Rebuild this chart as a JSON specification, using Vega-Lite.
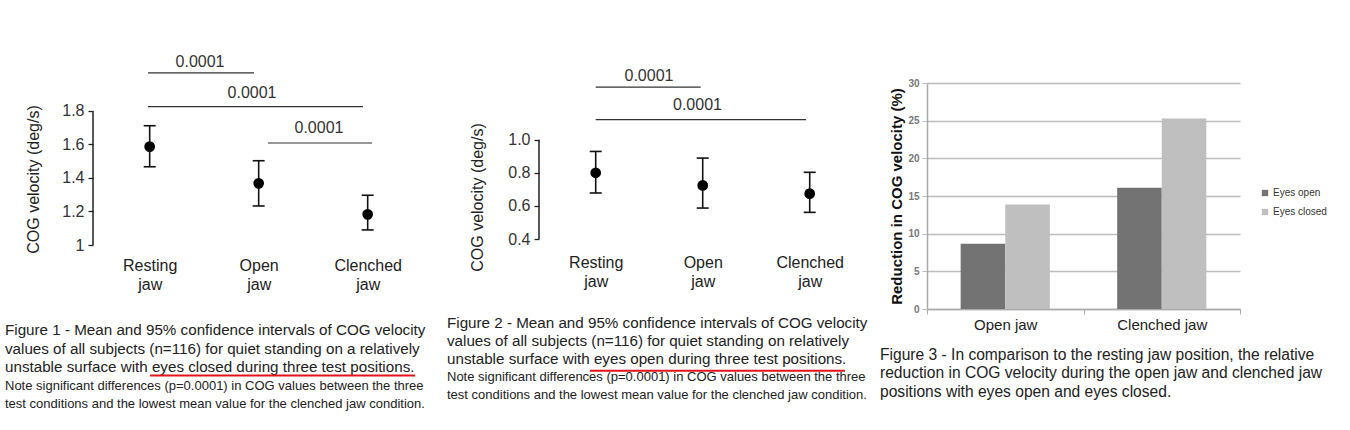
{
  "$schema": "https://vega.github.io/schema/vega-lite/v6.json",
  "background": "white",
  "padding": {"left": 5, "top": 52, "right": 5, "bottom": 16},
  "config": {"font": "Liberation Sans", "view": {"stroke": null}},
  "columns": 6,
  "bounds": "flush",
  "spacing": 0,
  "resolve": {"scale": {"color": "independent"}},
  "datasets": {
    "cog1": [
      {"condition": "Resting jaw", "pos": 1, "mean": 1.587, "lo": 1.467, "hi": 1.712},
      {"condition": "Open jaw", "pos": 2, "mean": 1.368, "lo": 1.233, "hi": 1.503},
      {"condition": "Clenched jaw", "pos": 3, "mean": 1.183, "lo": 1.09, "hi": 1.297}
    ],
    "br1": [
      {"label": "0.0001", "x1": 0.985, "x2": 1.957, "y": 2.027, "lx": 1.462, "ly": 2.09},
      {"label": "0.0001", "x1": 0.985, "x2": 2.957, "y": 1.826, "lx": 1.939, "ly": 1.91},
      {"label": "0.0001", "x1": 2.085, "x2": 3.04, "y": 1.609, "lx": 2.553, "ly": 1.701}
    ],
    "cog2": [
      {"condition": "Resting jaw", "pos": 1, "mean": 0.8, "lo": 0.678, "hi": 0.929},
      {"condition": "Open jaw", "pos": 2, "mean": 0.724, "lo": 0.587, "hi": 0.889},
      {"condition": "Clenched jaw", "pos": 3, "mean": 0.674, "lo": 0.561, "hi": 0.803}
    ],
    "br2": [
      {"label": "0.0001", "x1": 1.0, "x2": 1.981, "y": 1.318, "lx": 1.498, "ly": 1.382},
      {"label": "0.0001", "x1": 1.0, "x2": 2.965, "y": 1.121, "lx": 1.951, "ly": 1.211}
    ],
    "bars": [
      {"jaw": "Open jaw", "eyes": "Eyes open", "reduction": 8.66},
      {"jaw": "Open jaw", "eyes": "Eyes closed", "reduction": 13.88},
      {"jaw": "Clenched jaw", "eyes": "Eyes open", "reduction": 16.08},
      {"jaw": "Clenched jaw", "eyes": "Eyes closed", "reduction": 25.28}
    ],
    "cap1": [
      {"line": 1, "kind": "main", "text": "Figure 1 - Mean and 95% confidence intervals of COG velocity"},
      {"line": 2, "kind": "main", "text": "values of all subjects (n=116) for quiet standing on a relatively"},
      {"line": 3, "kind": "main", "text": "unstable surface with eyes closed during three test positions."},
      {"line": 4, "kind": "note", "text": "Note significant differences (p=0.0001) in COG values between the three"},
      {"line": 5, "kind": "note", "text": "test conditions and the lowest mean value for the clenched jaw condition."}
    ],
    "cap2": [
      {"line": 1, "kind": "main", "text": "Figure 2 - Mean and 95% confidence intervals of COG velocity"},
      {"line": 2, "kind": "main", "text": "values of all subjects (n=116) for quiet standing on relatively"},
      {"line": 3, "kind": "main", "text": "unstable surface with eyes open during three test positions."},
      {"line": 4, "kind": "note", "text": "Note significant differences (p=0.0001) in COG values between the three"},
      {"line": 5, "kind": "note", "text": "test conditions and the lowest mean value for the clenched jaw condition."}
    ],
    "cap3": [
      {"line": 1, "kind": "main", "text": "Figure 3 - In comparison to the resting jaw position, the relative"},
      {"line": 2, "kind": "main", "text": "reduction in COG velocity during the open jaw and clenched jaw"},
      {"line": 3, "kind": "main", "text": "positions with eyes open and eyes closed."}
    ],
    "under1": [{"start": 0.329, "end": 0.93, "line": 3.44}],
    "under2": [{"start": 0.33, "end": 0.919, "line": 3.65}]
  },
  "concat": [
    {"width": 1, "height": 31, "data": {"values": []}, "mark": "text", "encoding": {}},
    {"width": 1, "height": 31, "data": {"values": []}, "mark": "text", "encoding": {}},
    {"width": 1, "height": 31, "data": {"values": []}, "mark": "text", "encoding": {}},
    {"width": 1, "height": 31, "data": {"values": []}, "mark": "text", "encoding": {}},
    {"width": 1, "height": 31, "data": {"values": []}, "mark": "text", "encoding": {}},
    {"width": 1, "height": 31, "data": {"values": []}, "mark": "text", "encoding": {}},

    {"width": 88, "height": 1, "data": {"values": []}, "mark": "text", "encoding": {}},
    {
      "width": 327,
      "height": 162,
      "layer": [
        {
          "data": {"name": "br1"},
          "mark": {"type": "rule", "color": "#333", "strokeWidth": 1.2},
          "encoding": {
            "x": {"field": "x1", "type": "quantitative", "title": null,
              "scale": {"domain": [0.48, 3.48], "nice": false, "zero": false},
              "axis": {"values": [1, 2, 3], "labelExpr": "datum.value == 1 ? ['Resting','jaw'] : datum.value == 2 ? ['Open','jaw'] : ['Clenched','jaw']", "domain": false, "ticks": false, "grid": false, "labelFontSize": 16, "labelColor": "#222", "labelPadding": 12, "labelLineHeight": 19, "labelOverlap": false, "labelFlush": false}},
            "x2": {"field": "x2"},
            "y": {"field": "y", "type": "quantitative", "title": "COG velocity (deg/s)",
              "scale": {"domain": [1, 1.967], "nice": false, "zero": false},
              "axis": {"values": [1, 1.2, 1.4, 1.6, 1.8], "format": "~g", "domain": false, "labelFontSize": 16, "labelColor": "#333", "labelPadding": 4, "tickSize": 5, "tickColor": "#222", "tickWidth": 1.3, "grid": false, "titleFontSize": 16, "titleFontWeight": "normal", "titleColor": "#222", "titlePadding": 20, "titleY": 96}}
          }
        },
        {
          "data": {"values": [{}]},
          "mark": {"type": "rule", "color": "#222", "strokeWidth": 1.5},
          "encoding": {
            "x": {"datum": 0.48, "type": "quantitative", "title": null},
            "y": {"datum": 1, "type": "quantitative", "title": "COG velocity (deg/s)"},
            "y2": {"datum": 1.8}
          }
        },
        {
          "data": {"name": "br1"},
          "mark": {"type": "text", "fontSize": 16, "color": "#333", "baseline": "middle"},
          "encoding": {
            "x": {"field": "lx", "type": "quantitative", "title": null},
            "y": {"field": "ly", "type": "quantitative", "title": "COG velocity (deg/s)"},
            "text": {"field": "label"}
          }
        },
        {
          "data": {"name": "cog1"},
          "mark": {"type": "rule", "color": "#111", "strokeWidth": 1.6},
          "encoding": {
            "x": {"field": "pos", "type": "quantitative", "title": null},
            "y": {"field": "lo", "type": "quantitative", "title": "COG velocity (deg/s)"},
            "y2": {"field": "hi"}
          }
        },
        {
          "data": {"name": "cog1"},
          "mark": {"type": "tick", "orient": "horizontal", "size": 12, "thickness": 1.6, "color": "#111", "opacity": 1},
          "encoding": {
            "x": {"field": "pos", "type": "quantitative", "title": null},
            "y": {"field": "lo", "type": "quantitative", "title": "COG velocity (deg/s)"}
          }
        },
        {
          "data": {"name": "cog1"},
          "mark": {"type": "tick", "orient": "horizontal", "size": 12, "thickness": 1.6, "color": "#111", "opacity": 1},
          "encoding": {
            "x": {"field": "pos", "type": "quantitative", "title": null},
            "y": {"field": "hi", "type": "quantitative", "title": "COG velocity (deg/s)"}
          }
        },
        {
          "data": {"name": "cog1"},
          "mark": {"type": "point", "filled": true, "size": 115, "color": "#000", "opacity": 1},
          "encoding": {
            "x": {"field": "pos", "type": "quantitative", "title": null},
            "y": {"field": "mean", "type": "quantitative", "title": "COG velocity (deg/s)"}
          }
        }
      ]
    },
    {"width": 92, "height": 1, "data": {"values": []}, "mark": "text", "encoding": {}},
    {
      "width": 321,
      "height": 156,
      "layer": [
        {
          "data": {"name": "br2"},
          "mark": {"type": "rule", "color": "#333", "strokeWidth": 1.2},
          "encoding": {
            "x": {"field": "x1", "type": "quantitative", "title": null,
              "scale": {"domain": [0.47, 3.47], "nice": false, "zero": false},
              "axis": {"values": [1, 2, 3], "labelExpr": "datum.value == 1 ? ['Resting','jaw'] : datum.value == 2 ? ['Open','jaw'] : ['Clenched','jaw']", "domain": false, "ticks": false, "grid": false, "labelFontSize": 16, "labelColor": "#222", "labelPadding": 15, "labelLineHeight": 19, "labelOverlap": false, "labelFlush": false}},
            "x2": {"field": "x2"},
            "y": {"field": "y", "type": "quantitative", "title": "COG velocity (deg/s)",
              "scale": {"domain": [0.4, 1.3426], "nice": false, "zero": false},
              "axis": {"values": [0.4, 0.6, 0.8, 1.0], "format": ".1f", "domain": false, "labelFontSize": 16, "labelColor": "#333", "labelPadding": 4, "tickSize": 5, "tickColor": "#222", "tickWidth": 1.3, "grid": false, "titleFontSize": 16, "titleFontWeight": "normal", "titleColor": "#222", "titlePadding": 22, "titleY": 114}}
          }
        },
        {
          "data": {"values": [{}]},
          "mark": {"type": "rule", "color": "#222", "strokeWidth": 1.5},
          "encoding": {
            "x": {"datum": 0.47, "type": "quantitative", "title": null},
            "y": {"datum": 0.4, "type": "quantitative", "title": "COG velocity (deg/s)"},
            "y2": {"datum": 1.0}
          }
        },
        {
          "data": {"name": "br2"},
          "mark": {"type": "text", "fontSize": 16, "color": "#333", "baseline": "middle"},
          "encoding": {
            "x": {"field": "lx", "type": "quantitative", "title": null},
            "y": {"field": "ly", "type": "quantitative", "title": "COG velocity (deg/s)"},
            "text": {"field": "label"}
          }
        },
        {
          "data": {"name": "cog2"},
          "mark": {"type": "rule", "color": "#111", "strokeWidth": 1.6},
          "encoding": {
            "x": {"field": "pos", "type": "quantitative", "title": null},
            "y": {"field": "lo", "type": "quantitative", "title": "COG velocity (deg/s)"},
            "y2": {"field": "hi"}
          }
        },
        {
          "data": {"name": "cog2"},
          "mark": {"type": "tick", "orient": "horizontal", "size": 12, "thickness": 1.6, "color": "#111", "opacity": 1},
          "encoding": {
            "x": {"field": "pos", "type": "quantitative", "title": null},
            "y": {"field": "lo", "type": "quantitative", "title": "COG velocity (deg/s)"}
          }
        },
        {
          "data": {"name": "cog2"},
          "mark": {"type": "tick", "orient": "horizontal", "size": 12, "thickness": 1.6, "color": "#111", "opacity": 1},
          "encoding": {
            "x": {"field": "pos", "type": "quantitative", "title": null},
            "y": {"field": "hi", "type": "quantitative", "title": "COG velocity (deg/s)"}
          }
        },
        {
          "data": {"name": "cog2"},
          "mark": {"type": "point", "filled": true, "size": 115, "color": "#000", "opacity": 1},
          "encoding": {
            "x": {"field": "pos", "type": "quantitative", "title": null},
            "y": {"field": "mean", "type": "quantitative", "title": "COG velocity (deg/s)"}
          }
        }
      ]
    },
    {"width": 47, "height": 1, "data": {"values": []}, "mark": "text", "encoding": {}},
    {
      "width": 313,
      "height": 226,
      "data": {"name": "bars"},
      "mark": {"type": "bar"},
      "encoding": {
        "x": {"field": "jaw", "type": "nominal", "sort": ["Open jaw", "Clenched jaw"],
          "scale": {"paddingInner": 0, "paddingOuter": 0},
          "axis": {"title": null, "labelAngle": 0, "labelFontSize": 15, "labelColor": "#222", "labelPadding": 3, "domainColor": "#aaa", "domainWidth": 1.5, "tickColor": "#aaa", "tickSize": 5, "tickBand": "extent", "grid": false}},
        "xOffset": {"field": "eyes", "type": "nominal", "sort": ["Eyes open", "Eyes closed"],
          "scale": {"paddingInner": 0, "paddingOuter": 0.755}},
        "y": {"field": "reduction", "type": "quantitative",
          "scale": {"domain": [0, 30], "nice": false},
          "axis": {"title": "Reduction in COG velocity (%)", "titleFontSize": 15, "titleFontWeight": "bold", "titleColor": "#111", "titlePadding": 3, "values": [0, 5, 10, 15, 20, 25, 30], "labelFontSize": 10, "labelFontWeight": "bold", "labelColor": "#777", "labelPadding": 3, "tickSize": 5, "tickColor": "#bdbdbd", "domainColor": "#aaa", "domainWidth": 1.5, "grid": true, "gridColor": "#bdbdbd", "gridWidth": 1.5}},
        "color": {"field": "eyes", "type": "nominal",
          "scale": {"domain": ["Eyes open", "Eyes closed"], "range": ["#737373", "#bfbfbf"]},
          "legend": {"title": null, "orient": "none", "legendX": 333, "legendY": 105, "symbolType": "square", "symbolSize": 40, "symbolStrokeWidth": 0, "symbolOpacity": 1, "labelFontSize": 10, "labelColor": "#333", "rowPadding": 9, "labelOffset": 3}}
      }
    },

    {
      "width": 88,
      "height": 100,
      "layer": [
        {
          "data": {"name": "cap1"},
          "transform": [{"filter": "datum.kind == 'main'"}],
          "mark": {"type": "text", "align": "left", "baseline": "middle", "fontSize": 15.2, "color": "#222"},
          "encoding": {
            "x": {"datum": 0, "type": "quantitative", "scale": {"domain": [0, 1], "range": [0, 441]}, "axis": null},
            "y": {"field": "line", "type": "quantitative", "scale": {"domain": [1, 5], "range": [21, 95.4]}, "axis": null},
            "text": {"field": "text"}
          }
        },
        {
          "data": {"name": "cap1"},
          "transform": [{"filter": "datum.kind == 'note'"}],
          "mark": {"type": "text", "align": "left", "baseline": "middle", "fontSize": 13, "color": "#222"},
          "encoding": {
            "x": {"datum": 0, "type": "quantitative"},
            "y": {"field": "line", "type": "quantitative"},
            "text": {"field": "text"}
          }
        },
        {
          "data": {"name": "under1"},
          "mark": {"type": "rule", "color": "#e3121b", "strokeWidth": 2},
          "encoding": {
            "x": {"field": "start", "type": "quantitative"},
            "x2": {"field": "end"},
            "y": {"field": "line", "type": "quantitative"}
          }
        }
      ]
    },
    {"width": 354, "height": 1, "data": {"values": []}, "mark": "text", "encoding": {}},
    {
      "width": 92,
      "height": 100,
      "layer": [
        {
          "data": {"name": "cap2"},
          "transform": [{"filter": "datum.kind == 'main'"}],
          "mark": {"type": "text", "align": "left", "baseline": "middle", "fontSize": 15.2, "color": "#222"},
          "encoding": {
            "x": {"datum": 0, "type": "quantitative", "scale": {"domain": [0, 1], "range": [0, 433]}, "axis": null},
            "y": {"field": "line", "type": "quantitative", "scale": {"domain": [1, 5], "range": [14, 86]}, "axis": null},
            "text": {"field": "text"}
          }
        },
        {
          "data": {"name": "cap2"},
          "transform": [{"filter": "datum.kind == 'note'"}],
          "mark": {"type": "text", "align": "left", "baseline": "middle", "fontSize": 13, "color": "#222"},
          "encoding": {
            "x": {"datum": 0, "type": "quantitative"},
            "y": {"field": "line", "type": "quantitative"},
            "text": {"field": "text"}
          }
        },
        {
          "data": {"name": "under2"},
          "mark": {"type": "rule", "color": "#e3121b", "strokeWidth": 2},
          "encoding": {
            "x": {"field": "start", "type": "quantitative"},
            "x2": {"field": "end"},
            "y": {"field": "line", "type": "quantitative"}
          }
        }
      ]
    },
    {"width": 341, "height": 1, "data": {"values": []}, "mark": "text", "encoding": {}},
    {
      "width": 47,
      "height": 100,
      "data": {"name": "cap3"},
      "mark": {"type": "text", "align": "left", "baseline": "middle", "fontSize": 15.6, "color": "#222"},
      "encoding": {
        "x": {"datum": 0, "type": "quantitative", "scale": {"domain": [0, 1], "range": [0, 460]}, "axis": null},
        "y": {"field": "line", "type": "quantitative", "scale": {"domain": [1, 3], "range": [46, 82.7]}, "axis": null},
        "text": {"field": "text"}
      }
    }
  ]
}
